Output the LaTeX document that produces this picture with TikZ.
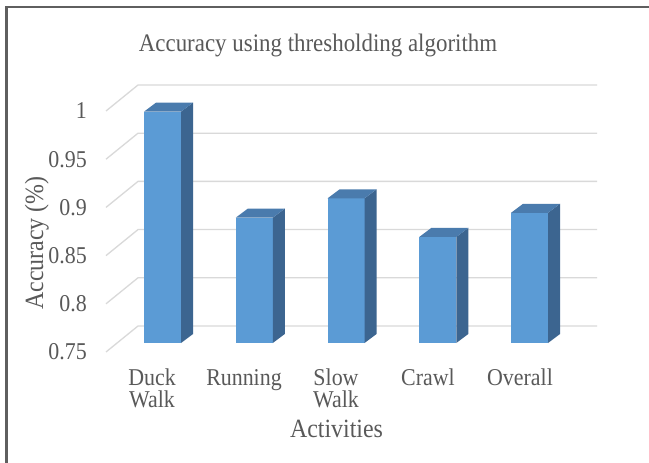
\documentclass[tikz,border=0pt]{standalone}
\usepackage{fontspec}
\setmainfont{Liberation Serif}
\definecolor{txtgray}{HTML}{595959}
\definecolor{gridgray}{HTML}{D9D9D9}
\definecolor{framegray}{HTML}{5F5F5F}
\definecolor{barfront}{HTML}{5B9BD5}
\definecolor{barside}{HTML}{3C6590}
\definecolor{bartop}{HTML}{4A7BAD}
% text in this chart is set slightly taller than wide
\newcommand{\tallt}[1]{\scalebox{1}[1.1]{#1}}
\tikzset{
  gridline/.style={draw=gridgray, line width=1.3bp},
  frameline/.style={draw=framegray, line width=2.2bp},
  ticklabel/.style={text=txtgray, font=\fontsize{22}{22}\selectfont, inner sep=0pt, anchor=east},
  catlabel/.style={text=txtgray, font=\fontsize{22}{22}\selectfont, inner sep=0pt, anchor=base,
    text height=16bp, text depth=4bp},
  axistitle/.style={text=txtgray, font=\fontsize{24}{24}\selectfont, inner sep=0pt, anchor=base},
  charttitle/.style={text=txtgray, font=\fontsize{23}{23}\selectfont, inner sep=0pt, anchor=base},
  facefront/.style={fill=barfront},
  faceside/.style={fill=barside},
  facetop/.style={fill=bartop}
}
\begin{document}
\begin{tikzpicture}[x=1bp, y=-1bp]
\useasboundingbox (0,0) rectangle (649,463);
\fill[white] (0,0) rectangle (649,463);

% outer frame (top and left edges)
\draw[frameline] (649,7) -- (6.5,7) -- (6.5,463);

% chart title
\node[charttitle] (title) at (318,52) {\tallt{Accuracy using thresholding algorithm}};

% gridlines: back wall lines with the diagonal floor edge on the left
\foreach \k in {0,...,5} {
  \pgfmathsetmacro\yb{85+\k*48.2}
  \draw[gridline] (106,\yb+26) -- (138,\yb) -- (597,\yb);
}

% value axis labels
\foreach \lab [count=\k from 0] in {1,0.95,0.9,0.85,0.8,0.75} {
  \node[ticklabel] (tick\k) at (87,111+\k*48.2) {\tallt{\lab}};
}

% 3D bars: front face, side face, top face
\foreach \v [count=\i from 0] in {0.99,0.88,0.90,0.86,0.885} {
  \pgfmathsetmacro\xl{144+91.75*\i}
  \pgfmathsetmacro\yt{343-(\v-0.75)*964}
  \fill[facefront] (\xl,343) rectangle (\xl+37,\yt);
  \fill[faceside] (\xl+37,343) -- (\xl+49,334) -- (\xl+49,\yt-9) -- (\xl+37,\yt) -- cycle;
  \fill[facetop] (\xl,\yt) -- (\xl+12,\yt-9) -- (\xl+49,\yt-9) -- (\xl+37,\yt) -- cycle;
}

% category labels (first line and, where present, second line)
\foreach \lab [count=\i from 0] in {Duck,Running,Slow,Crawl,Overall} {
  \node[catlabel] (cat\i) at (152+92*\i,385) {\tallt{\lab}};
}
\node[catlabel] (cat0b) at (152,407) {\tallt{Walk}};
\node[catlabel] (cat2b) at (336,407) {\tallt{Walk}};

% axis titles
\node[axistitle] (xtitle) at (336.5,437) {\tallt{Activities}};
\node[axistitle, rotate=90] (ytitle) at (43,243) {\tallt{Accuracy (\%)}};
\end{tikzpicture}
\end{document}
